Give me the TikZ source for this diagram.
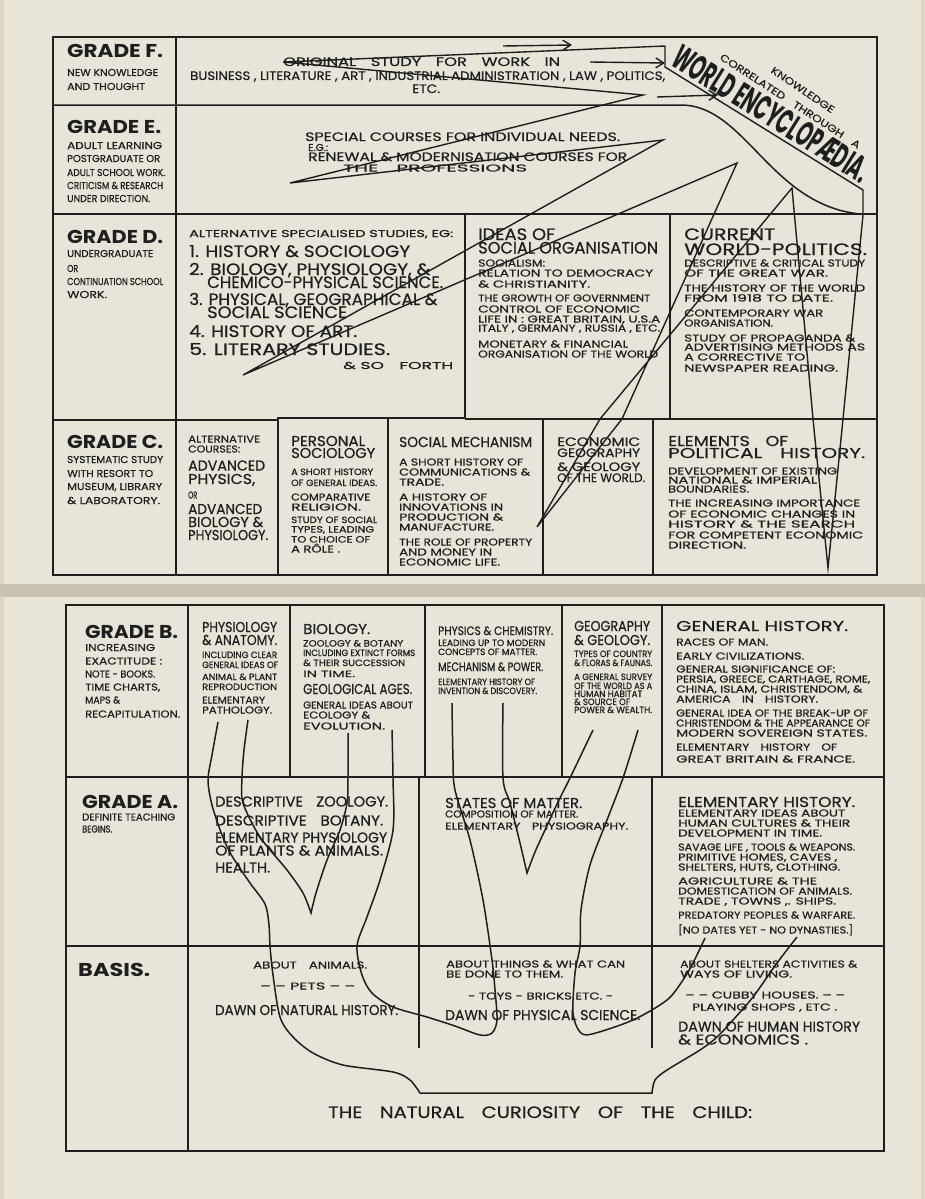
\documentclass[tikz,border=0pt]{standalone}
\usepackage{fontspec}
\setmainfont{Poppins}[UprightFeatures={FakeBold=0.5}]
\usepackage{graphicx}
\usetikzlibrary{arrows.meta}
\definecolor{ink}{HTML}{1E1E1E}
\definecolor{paper}{HTML}{E9E4D8}
\definecolor{paperdark}{HTML}{DCD5C6}
\definecolor{gapc}{HTML}{C9C2B2}
\newcounter{tn}
\newcommand\fA{\fontsize{18.6}{20}\selectfont\bfseries}
\newcommand\fB{\fontsize{16.5}{18}\selectfont}
\newcommand\fC{\fontsize{14.3}{16}\selectfont}
\newcommand\fD{\fontsize{12.2}{14}\selectfont}
\newcommand\fE{\fontsize{10}{12}\selectfont}
\newcommand\fF{\fontsize{9}{11}\selectfont}
\newcommand\wsp{\hspace{0.9em}}
\newcommand\txtline[5]{\stepcounter{tn}\node[txt,font=#4] (t\arabic{tn}) at (#1,#2) {\resizebox{#3pt}{\height}{#5}};}
\tikzset{
 txt/.style={anchor=base west, inner sep=0pt, text=ink},
 frame/.style={draw=ink, line width=2pt},
 rule/.style={draw=ink, line width=1.5pt},
 heavy/.style={draw=ink, line width=2.8pt},
 thread/.style={draw=ink, line width=1.4pt, line join=miter},
 curve/.style={draw=ink, line width=1.5pt},
 arr/.style={draw=ink, line width=1.4pt, -{Straight Barb[length=8pt,width=10pt]}}
}
\begin{document}
\begin{tikzpicture}[x=1pt,y=-1pt]
\useasboundingbox (0,0) rectangle (925,1199);
% ---------- paper ----------
\fill[paperdark] (0,0) rectangle (925,1199);
\fill[paper] (4,0) rectangle (921,584);
\fill[gapc] (0,584) rectangle (925,597);
\fill[paper] (4,597) rectangle (921,1199);

% ================= TOP PAGE TABLE =================
\draw[frame] (53,37) rectangle (877,575);
\draw[frame] (176,37) -- (176,575);
\draw[rule] (53,105) -- (680,105) .. controls (745,104) and (770,205) .. (860,214);
\draw[rule] (53,214) -- (877,214);
\draw[rule] (53,420) -- (278,420);
\draw[rule] (465,419) -- (877,419);
\draw[heavy] (465,214) -- (465,418) -- (278,418) -- (278,575);
\draw[rule] (670,214) -- (670,419);
\draw[rule] (388,419) -- (388,575);
\draw[rule] (543,419) -- (543,575);
\draw[rule] (653,419) -- (653,575);

% ---------- labels ----------
\txtline{67}{58}{96}{\fA}{GRADE F.}
\txtline{67}{76}{91}{\fE}{NEW KNOWLEDGE}
\txtline{67}{90}{78}{\fE}{AND THOUGHT}
\txtline{67}{133}{94}{\fA}{GRADE E.}
\txtline{67}{149}{95}{\fE}{ADULT LEARNING}
\txtline{67}{162}{93}{\fE}{POSTGRADUATE OR}
\txtline{67}{176}{98}{\fE}{ADULT SCHOOL WORK.}
\txtline{67}{189}{96}{\fE}{CRITICISM \& RESEARCH}
\txtline{67}{202}{83}{\fE}{UNDER DIRECTION.}
\txtline{67}{243}{96}{\fA}{GRADE D.}
\txtline{67}{257}{86}{\fE}{UNDERGRADUATE}
\txtline{67}{272}{11}{\fE}{OR}
\txtline{67}{285}{96}{\fE}{CONTINUATION SCHOOL}
\txtline{67}{298}{40}{\fE}{WORK.}
\txtline{67}{448}{96}{\fA}{GRADE C.}
\txtline{67}{463}{96}{\fE}{SYSTEMATIC STUDY}
\txtline{67}{477}{86}{\fE}{WITH RESORT TO}
\txtline{67}{490}{95}{\fE}{MUSEUM, LIBRARY}
\txtline{67}{504}{93}{\fE}{\& LABORATORY.}

% ---------- grade F / E ----------
\txtline{283}{66}{277}{\fD}{ORIGINAL\wsp STUDY\wsp FOR\wsp WORK\wsp IN}
\txtline{190}{80}{475}{\fD}{BUSINESS , LITERATURE , ART , INDUSTRIAL ADMINISTRATION , LAW , POLITICS,}
\txtline{412}{93}{28}{\fD}{ETC.}
\txtline{305}{141}{315}{\fD}{SPECIAL COURSES FOR INDIVIDUAL NEEDS.}
\txtline{308}{151}{20}{\fE}{E.G.:}
\txtline{308}{161}{319}{\fD}{RENEWAL \& MODERNISATION COURSES FOR}
\txtline{343}{171.5}{184}{\fE}{THE\wsp PROFESSIONS}

% ---------- grade D ----------
\txtline{189}{237}{264}{\fE}{ALTERNATIVE SPECIALISED STUDIES, EG:}
\txtline{189}{257}{221}{\fB}{1. HISTORY \& SOCIOLOGY}
\txtline{189}{275}{241}{\fB}{2. BIOLOGY, PHYSIOLOGY, \&}
\txtline{207}{288}{236}{\fB}{CHEMICO-PHYSICAL SCIENCE.}
\txtline{189}{305}{248}{\fB}{3. PHYSICAL, GEOGRAPHICAL \&}
\txtline{207}{318}{140}{\fB}{SOCIAL SCIENCE}
\txtline{189}{337}{168}{\fB}{4. HISTORY OF ART.}
\txtline{189}{355}{201}{\fB}{5. LITERARY STUDIES.}
\txtline{343}{369}{110}{\fE}{\& SO\wsp FORTH}

\txtline{478}{240}{77}{\fB}{IDEAS OF}
\txtline{478}{253.5}{180}{\fB}{SOCIAL ORGANISATION}
\txtline{478}{266.5}{67}{\fE}{SOCIALISM:}
\txtline{478}{276.5}{175}{\fE}{RELATION TO DEMOCRACY}
\txtline{478}{287.5}{112}{\fE}{\& CHRISTIANITY.}
\txtline{478}{301.5}{172}{\fE}{THE GROWTH OF GOVERNMENT}
\txtline{478}{312.5}{162}{\fE}{CONTROL OF ECONOMIC}
\txtline{478}{322.5}{182}{\fE}{LIFE IN : GREAT BRITAIN, U.S.A}
\txtline{478}{331.5}{182}{\fE}{ITALY , GERMANY , RUSSIA , ETC.}
\txtline{478}{347.5}{150}{\fE}{MONETARY \& FINANCIAL}
\txtline{478}{357.5}{180}{\fE}{ORGANISATION OF THE WORLD}

\txtline{684}{240}{91}{\fB}{CURRENT}
\txtline{684}{255}{183}{\fB}{WORLD-POLITICS.}
\txtline{684}{266.5}{181}{\fE}{DESCRIPTIVE \& CRITICAL STUDY}
\txtline{684}{276.5}{144}{\fE}{OF THE GREAT WAR.}
\txtline{684}{291.5}{181}{\fE}{THE HISTORY OF THE WORLD}
\txtline{684}{301.5}{149}{\fE}{FROM 1918 TO DATE.}
\txtline{684}{316.5}{139}{\fE}{CONTEMPORARY WAR}
\txtline{684}{326.5}{89}{\fE}{ORGANISATION.}
\txtline{684}{341.5}{171}{\fE}{STUDY OF PROPAGANDA \&}
\txtline{684}{350.5}{181}{\fE}{ADVERTISING METHODS AS}
\txtline{684}{360.5}{121}{\fE}{A CORRECTIVE TO}
\txtline{684}{371.5}{154}{\fE}{NEWSPAPER READING.}

% ---------- grade C ----------
\txtline{188}{442.5}{72}{\fE}{ALTERNATIVE}
\txtline{188}{452.5}{52}{\fE}{COURSES:}
\txtline{188}{470.5}{77}{\fC}{ADVANCED}
\txtline{188}{484}{67}{\fC}{PHYSICS,}
\txtline{188}{498.5}{9}{\fE}{OR}
\txtline{188}{514}{74}{\fC}{ADVANCED}
\txtline{188}{527}{75}{\fC}{BIOLOGY \&}
\txtline{188}{540}{80}{\fC}{PHYSIOLOGY.}

\txtline{291}{446}{74}{\fC}{PERSONAL}
\txtline{291}{458}{84}{\fC}{SOCIOLOGY}
\txtline{291}{475}{82}{\fF}{A SHORT HISTORY}
\txtline{291}{486}{86}{\fF}{OF GENERAL IDEAS.}
\txtline{291}{500.5}{79}{\fE}{COMPARATIVE}
\txtline{291}{510.5}{70}{\fE}{RELIGION.}
\txtline{291}{523}{86}{\fF}{STUDY OF SOCIAL}
\txtline{291}{532.5}{83}{\fF}{TYPES, LEADING}
\txtline{291}{542.5}{79}{\fF}{TO CHOICE OF}
\txtline{291}{552.5}{49}{\fE}{A RÔLE .}

\txtline{399}{447}{133}{\fC}{SOCIAL MECHANISM}
\txtline{399}{465.5}{124}{\fE}{A SHORT HISTORY OF}
\txtline{399}{475.5}{131}{\fE}{COMMUNICATIONS \&}
\txtline{399}{485.5}{45}{\fE}{TRADE.}
\txtline{399}{500.5}{88}{\fE}{A HISTORY OF}
\txtline{399}{510.5}{104}{\fE}{INNOVATIONS IN}
\txtline{399}{520.5}{104}{\fE}{PRODUCTION \&}
\txtline{399}{530.5}{95}{\fE}{MANUFACTURE.}
\txtline{399}{545.5}{133}{\fE}{THE ROLE OF PROPERTY}
\txtline{399}{555.5}{93}{\fE}{AND MONEY IN}
\txtline{399}{565.5}{101}{\fE}{ECONOMIC LIFE.}

\txtline{557}{446}{83}{\fD}{ECONOMIC}
\txtline{557}{457}{83}{\fD}{GEOGRAPHY}
\txtline{557}{471}{83}{\fD}{\& GEOLOGY}
\txtline{557}{482}{88}{\fD}{OF THE WORLD.}

\txtline{668}{446}{120}{\fC}{ELEMENTS\wsp OF}
\txtline{668}{458}{197}{\fC}{POLITICAL\wsp HISTORY.}
\txtline{668}{474.5}{169}{\fE}{DEVELOPMENT OF EXISTING}
\txtline{668}{483.5}{149}{\fE}{NATIONAL \& IMPERIAL}
\txtline{668}{492.5}{81}{\fE}{BOUNDARIES.}
\txtline{668}{506.5}{192}{\fE}{THE INCREASING IMPORTANCE}
\txtline{668}{517.5}{187}{\fE}{OF ECONOMIC CHANGES IN}
\txtline{668}{527.5}{187}{\fE}{HISTORY \& THE SEARCH}
\txtline{668}{538.5}{195}{\fE}{FOR COMPETENT ECONOMIC}
\txtline{668}{548.5}{78}{\fE}{DIRECTION.}

% ---------- world encyclopaedia ----------
\node[txt, rotate=-32] (enc) at (669,64) {\resizebox{226pt}{\height}{\fontsize{35}{35}\selectfont\bfseries WORLD ENCYCLOPÆDIA.}};
\node[txt, rotate=-33, font=\fE] (corr) at (719,59) {\resizebox{165pt}{\height}{CORRELATED\wsp THROUGH\wsp A}};
\node[txt, rotate=-34, font=\fE] (know) at (770,72) {\resizebox{74pt}{\height}{KNOWLEDGE}};

% ---------- thread (top page) ----------
\coordinate (z1) at (665,46);
\coordinate (z2) at (283,62);
\coordinate (z3) at (643,95);
\coordinate (z4) at (290,183);
\coordinate (z5) at (663,140);
\coordinate (z6) at (243,375);
\coordinate (z7) at (737,163);
\coordinate (z8) at (622,419);
\coordinate (z9) at (537,527);
\coordinate (z10) at (600,419);
\coordinate (z11) at (792,188);
\coordinate (z12) at (813,419);
\coordinate (z13) at (828,568);
\coordinate (z14) at (843,419);
\coordinate (z15) at (863,215);
\coordinate (z16) at (863,190);
\coordinate (z17) at (665,67);
\draw[thread] (z1) -- (z2) -- (z3) -- (z4) -- (z5) -- (z6) -- (z7) -- (z8) -- (z9) -- (z10) -- (z11) -- (z12) -- (z13) -- (z14) -- (z15) -- (z16) -- (z17) -- cycle;

% arrows
\coordinate (a1s) at (503,46); \coordinate (a1e) at (572,45);
\coordinate (a2s) at (590,62); \coordinate (a2e) at (665,63);
\coordinate (a3s) at (657,97); \coordinate (a3e) at (718,95);
\draw[arr] (a1s) -- (a1e);
\draw[arr] (a2s) -- (a2e);
\draw[arr] (a3s) -- (a3e);

% ================= BOTTOM PAGE TABLE =================
\draw[frame] (66,605) rectangle (884,1151);
\draw[frame] (188,605) -- (188,1151);
\draw[rule] (66,777) -- (884,777);
\draw[rule] (66,946) -- (884,946);
\draw[rule] (290,605) -- (290,777);
\draw[rule] (425,605) -- (425,777);
\draw[rule] (562,605) -- (562,777);
\draw[rule] (662,605) -- (662,777);
\draw[rule] (419,777) -- (419,1048);
\draw[rule] (652,777) -- (652,1048);

% ---------- grade B ----------
\txtline{85}{638.5}{93}{\fA}{GRADE B.}
\txtline{85}{651}{70}{\fE}{INCREASING}
\txtline{85}{664.5}{77}{\fE}{EXACTITUDE :}
\txtline{85}{677.5}{70}{\fE}{NOTE - BOOKS.}
\txtline{85}{690.5}{75}{\fE}{TIME CHARTS,}
\txtline{85}{703.5}{35}{\fE}{MAPS \&}
\txtline{85}{717.5}{95}{\fE}{RECAPITULATION.}

\txtline{202}{632}{75}{\fC}{PHYSIOLOGY}
\txtline{202}{645}{75}{\fC}{\& ANATOMY.}
\txtline{202}{658}{75}{\fF}{INCLUDING CLEAR}
\txtline{202}{668}{76}{\fF}{GENERAL IDEAS OF}
\txtline{202}{680}{75}{\fF}{ANIMAL \& PLANT}
\txtline{202}{690}{75}{\fF}{REPRODUCTION}
\txtline{202}{703.5}{63}{\fE}{ELEMENTARY}
\txtline{202}{713.5}{70}{\fE}{PATHOLOGY.}

\txtline{303}{634}{67}{\fC}{BIOLOGY.}
\txtline{303}{646.5}{100}{\fF}{ZOOLOGY \& BOTANY}
\txtline{303}{656}{112}{\fF}{INCLUDING EXTINCT FORMS}
\txtline{303}{666}{102}{\fF}{\& THEIR SUCCESSION}
\txtline{303}{677}{52}{\fF}{IN TIME.}
\txtline{303}{694}{109}{\fC}{GEOLOGICAL AGES.}
\txtline{303}{708.5}{110}{\fE}{GENERAL IDEAS ABOUT}
\txtline{303}{718.5}{67}{\fE}{ECOLOGY \&}
\txtline{303}{729.5}{82}{\fE}{EVOLUTION.}

\txtline{438}{635}{115}{\fD}{PHYSICS \& CHEMISTRY.}
\txtline{438}{646}{107}{\fF}{LEADING UP TO MODERN}
\txtline{438}{655}{99}{\fF}{CONCEPTS OF MATTER.}
\txtline{438}{671}{105}{\fD}{MECHANISM \& POWER.}
\txtline{438}{685}{97}{\fF}{ELEMENTARY HISTORY OF}
\txtline{438}{694}{99}{\fF}{INVENTION \& DISCOVERY.}

\txtline{574}{631}{76}{\fC}{GEOGRAPHY}
\txtline{574}{645}{76}{\fC}{\& GEOLOGY.}
\txtline{574}{657}{78}{\fF}{TYPES OF COUNTRY}
\txtline{574}{666}{78}{\fF}{\& FLORAS \& FAUNAS.}
\txtline{574}{680}{78}{\fF}{A GENERAL SURVEY}
\txtline{574}{689}{78}{\fF}{OF THE WORLD AS A}
\txtline{574}{697}{68}{\fF}{HUMAN HABITAT}
\txtline{574}{705}{56}{\fF}{\& SOURCE OF}
\txtline{574}{713}{78}{\fF}{POWER \& WEALTH.}

\txtline{676}{631}{172}{\fC}{GENERAL HISTORY.}
\txtline{676}{645.5}{92}{\fE}{RACES OF MAN.}
\txtline{676}{659.5}{128}{\fE}{EARLY CIVILIZATIONS.}
\txtline{676}{672.5}{159}{\fE}{GENERAL SIGNIFICANCE OF:}
\txtline{676}{682.5}{194}{\fE}{PERSIA, GREECE, CARTHAGE, ROME,}
\txtline{676}{692.5}{186}{\fE}{CHINA, ISLAM, CHRISTENDOM, \&}
\txtline{676}{702.5}{142}{\fE}{AMERICA\wsp IN\wsp HISTORY.}
\txtline{676}{716.5}{192}{\fE}{GENERAL IDEA OF THE BREAK-UP OF}
\txtline{676}{726.5}{194}{\fE}{CHRISTENDOM \& THE APPEARANCE OF}
\txtline{676}{736.5}{191}{\fE}{MODERN SOVEREIGN STATES.}
\txtline{676}{750.5}{161}{\fE}{ELEMENTARY\wsp HISTORY\wsp OF}
\txtline{676}{762.5}{179}{\fE}{GREAT BRITAIN \& FRANCE.}

% ---------- grade A ----------
\txtline{82}{808.5}{96}{\fA}{GRADE A.}
\txtline{82}{820.5}{93}{\fE}{DEFINITE TEACHING}
\txtline{82}{832.5}{30}{\fE}{BEGINS.}

\txtline{215}{806.5}{173}{\fC}{DESCRIPTIVE\wsp ZOOLOGY.}
\txtline{215}{825.5}{168}{\fC}{DESCRIPTIVE\wsp BOTANY.}
\txtline{215}{842.5}{172}{\fC}{ELEMENTARY PHYSIOLOGY}
\txtline{215}{855.5}{168}{\fC}{OF PLANTS \& ANIMALS.}
\txtline{215}{872.5}{55}{\fC}{HEALTH.}

\txtline{445}{808}{137}{\fC}{STATES OF MATTER.}
\txtline{445}{817.5}{133}{\fE}{COMPOSITION OF MATTER.}
\txtline{445}{829.5}{183}{\fE}{ELEMENTARY\wsp PHYSIOGRAPHY.}

\txtline{678}{807}{177}{\fC}{ELEMENTARY HISTORY.}
\txtline{678}{816.5}{167}{\fE}{ELEMENTARY IDEAS ABOUT}
\txtline{678}{826.5}{172}{\fE}{HUMAN CULTURES \& THEIR}
\txtline{678}{836.5}{144}{\fE}{DEVELOPMENT IN TIME.}
\txtline{678}{850.5}{177}{\fE}{SAVAGE LIFE , TOOLS \& WEAPONS.}
\txtline{678}{860.5}{159}{\fE}{PRIMITIVE HOMES, CAVES ,}
\txtline{678}{870.5}{162}{\fE}{SHELTERS, HUTS, CLOTHING.}
\txtline{678}{884.5}{139}{\fE}{AGRICULTURE \& THE}
\txtline{678}{894.5}{174}{\fE}{DOMESTICATION OF ANIMALS.}
\txtline{678}{904.5}{158}{\fE}{TRADE , TOWNS ,. SHIPS.}
\txtline{678}{918.5}{177}{\fE}{PREDATORY PEOPLES \& WARFARE.}
\txtline{678}{933.5}{175}{\fE}{[NO DATES YET - NO DYNASTIES.]}

% ---------- basis ----------
\txtline{78}{976.5}{72}{\fA}{BASIS.}
\txtline{253}{968.5}{114}{\fE}{ABOUT\wsp ANIMALS.}
\txtline{260}{989.5}{95}{\fE}{-- -- PETS -- --}
\txtline{215}{1015}{183}{\fC}{DAWN OF NATURAL HISTORY.}
\txtline{446}{967.5}{179}{\fE}{ABOUT THINGS \& WHAT CAN}
\txtline{446}{977.5}{117}{\fE}{BE DONE TO THEM.}
\txtline{468}{999.5}{145}{\fE}{- TOYS - BRICKS ETC. -}
\txtline{445}{1020}{195}{\fC}{DAWN OF PHYSICAL SCIENCE.}
\txtline{680}{967.5}{177}{\fE}{ABOUT SHELTERS ACTIVITIES \&}
\txtline{680}{977.5}{112}{\fE}{WAYS OF LIVING.}
\txtline{685}{998.5}{160}{\fE}{-- -- CUBBY HOUSES. -- --}
\txtline{692}{1010.5}{145}{\fE}{PLAYING SHOPS , ETC .}
\txtline{678}{1031.5}{182}{\fC}{DAWN OF HUMAN HISTORY}
\txtline{678}{1044.5}{130}{\fC}{\& ECONOMICS .}
\txtline{328}{1118}{424}{\fB}{THE\wsp NATURAL\wsp CURIOSITY\wsp OF\wsp THE\wsp CHILD:}

% ---------- threads (bottom page) ----------
\draw[curve] plot[smooth,tension=0.5] coordinates {(218,722) (212,755) (208,780) (212,805) (222,835) (232,856) (250,883) (265,904) (269,925) (270,946) (273,975) (280,1017) (293,1037) (313,1053) (343,1065) (393,1072) (410,1080) (420,1093)}
 -- plot[smooth,tension=0.5] coordinates {(652,1093) (655,1080) (667,1070) (700,1050) (717,1037) (733,1020) (753,997) (777,963) (797,937)};
\draw[curve] plot[smooth,tension=0.5] coordinates {(248,720) (244,750) (242,778) (243,803) (260,837) (287,870) (303,893) (311,913)}
 -- plot[smooth,tension=0.5] coordinates {(311,913) (316,893) (327,860) (340,830) (347,803) (348,778) (348,733)};
\draw[curve] plot[smooth,tension=0.5] coordinates {(392,730) (393,778) (393,830) (380,880) (367,917) (357,946) (362,975) (372,993) (393,1007) (427,1017) (455,1026) (480,1035) (492,1033) (497,1020) (495,990) (492,960) (483,900) (470,840) (455,790) (453,760) (452,703)};
\draw[curve] plot[smooth,tension=0.5] coordinates {(503,703) (503,778) (510,803) (520,843) (527,873)}
 -- plot[smooth,tension=0.5] coordinates {(527,873) (535,852) (545,830) (558,802) (570,778) (593,730)};
\draw[curve] plot[smooth,tension=0.5] coordinates {(638,730) (623,778) (607,820) (590,865) (581,910) (580,946) (575,973) (573,1013) (580,1032) (592,1034) (633,1020) (667,1000) (683,980) (693,963) (705,938)};
\end{tikzpicture}
\end{document}
